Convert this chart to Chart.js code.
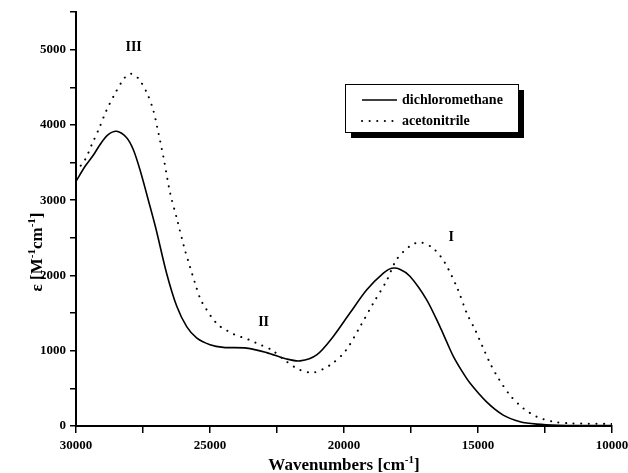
<!DOCTYPE html>
<html>
<head>
<meta charset="utf-8">
<script src="https://cdn.jsdelivr.net/npm/chart.js@4.4.1/dist/chart.umd.min.js"></script>
<style>
html,body{margin:0;padding:0;background:#fff;}
#wrap{position:relative;width:628px;height:473px;}
</style>
</head>
<body>
<div id="wrap"><canvas id="c" width="628" height="473"></canvas></div>
<script>
// ---- data ----
const dcmWavenumbers = [30000,29660,29350,29100,28800,28480,28110,27860,27610,27240,27010,26620,26240,25870,25500,25000,24500,23630,22890,22140,21640,21020,20400,19780,19150,18530,18220,17900,17540,16920,16420,16170,15920,15610,15300,14680,14060,13430,12810,12000,11000,10000];
const dcmEpsilon     = [3250,3450,3600,3740,3870,3915,3830,3670,3400,2920,2610,2030,1590,1320,1170,1080,1045,1035,975,890,865,945,1190,1500,1810,2030,2095,2080,1990,1680,1320,1120,925,735,570,320,145,57,25,10,6,5];
const acnWavenumbers = [30000,29660,29410,29130,28880,28570,28200,27960,27680,27360,27120,26970,26720,26490,26240,25930,25750,25560,25350,25160,24960,24690,24400,24130,23820,23530,23260,22700,22140,21640,21140,20520,19960,19400,18910,18410,18040,17540,17160,16670,16230,15770,15420,15110,14830,14550,14240,13810,13310,12810,12190,11570,10000];
const acnEpsilon     = [3380,3540,3740,3960,4180,4400,4620,4680,4620,4430,4200,3970,3540,3100,2760,2330,2120,1900,1680,1565,1455,1340,1275,1222,1180,1144,1100,1010,855,745,710,810,990,1320,1630,1930,2210,2390,2440,2360,2165,1830,1500,1280,1055,835,635,410,235,124,57,36,27];
const seriesLabels = ['dichloromethane','acetonitrile'];
const xTickValues = [30000,25000,20000,15000,10000];
const yTickValues = [0,1000,2000,3000,4000,5000];
const peakLabels = ['III','II','I'];
const peakX = [27850,23000,16000];
const peakY = [5030,1380,2500];

const SERIF = '"Liberation Serif","Times New Roman",serif';

function toPts(xs, ys){ return xs.map((x,i)=>({x:x,y:ys[i]})); }

function drawParts(ctx, parts, x, y, align){
  const big = 'bold 17px ' + SERIF, small = 'bold 11px ' + SERIF;
  let w = 0;
  parts.forEach(p=>{ ctx.font = p[1]?small:big; w += ctx.measureText(p[0]).width; });
  let cx = align==='center' ? x - w/2 : x;
  ctx.textBaseline = 'alphabetic';
  ctx.textAlign = 'left';
  parts.forEach(p=>{
    ctx.font = p[1]?small:big;
    ctx.fillText(p[0], cx, p[1] ? y-7 : y);
    cx += ctx.measureText(p[0]).width;
  });
}

const overlay = {
  id:'overlay',
  afterDraw(chart){
    const ctx = chart.ctx, xs = chart.scales.x, ys = chart.scales.y;
    ctx.save();
    ctx.fillStyle = '#000';
    drawParts(ctx, [['Wavenumbers [cm',0],['-1',1],[']',0]], 344, 470, 'center');
    ctx.save();
    ctx.translate(42, 252);
    ctx.rotate(-Math.PI/2);
    drawParts(ctx, [['\u03b5 [M',0],['-1',1],['cm',0],['-1',1],[']',0]], 0, 0, 'center');
    ctx.restore();
    ctx.font = 'bold 14px ' + SERIF;
    ctx.textAlign = 'center';
    ctx.textBaseline = 'middle';
    peakLabels.forEach((t,i)=>{
      ctx.fillText(t, xs.getPixelForValue(peakX[i]), ys.getPixelForValue(peakY[i]));
    });
    const bx=345, by=84, bw=173, bh=48;
    ctx.fillStyle='#000';
    ctx.fillRect(bx+6, by+6, bw, bh);
    ctx.fillStyle='#fff';
    ctx.fillRect(bx, by, bw, bh);
    ctx.strokeStyle='#000'; ctx.lineWidth=1;
    ctx.strokeRect(bx+0.5, by+0.5, bw, bh);
    chart.data.datasets.forEach((ds,i)=>{
      const yy = by + 16 + i*21;
      ctx.beginPath();
      ctx.setLineDash(ds.borderDash || []);
      ctx.lineWidth = ds.borderWidth;
      ctx.lineCap = ds.borderCapStyle || 'butt';
      ctx.moveTo(362, yy); ctx.lineTo(397, yy);
      ctx.stroke();
      ctx.setLineDash([]);
      ctx.fillStyle='#000';
      ctx.font='bold 14px ' + SERIF;
      ctx.textAlign='left'; ctx.textBaseline='middle';
      ctx.fillText(ds.label, 402, yy);
    });
    ctx.restore();
  }
};

new Chart(document.getElementById('c'), {
  type:'line',
  data:{
    datasets:[
      {label:seriesLabels[0], data:toPts(dcmWavenumbers, dcmEpsilon), borderColor:'#000', borderWidth:1.6, pointRadius:0, fill:false, tension:0.3},
      {label:seriesLabels[1], data:toPts(acnWavenumbers, acnEpsilon), borderColor:'#000', borderWidth:2, borderDash:[0.1,7.5], borderCapStyle:'round', pointRadius:0, fill:false, tension:0.3}
    ]
  },
  options:{
    responsive:false,
    animation:false,
    events:[],
    layout:{padding:{top:12,right:16,left:0,bottom:0}},
    plugins:{legend:{display:false}, tooltip:{enabled:false}},
    scales:{
      x:{
        type:'linear', min:10000, max:30000, reverse:true,
        afterFit(s){ s.height = 47; },
        afterBuildTicks(s){ const t=[]; for(let v=10000; v<=30000; v+=2500) t.push({value:v}); s.ticks=t; },
        ticks:{autoSkip:false, maxRotation:0, padding:5, color:'#000', font:{family:SERIF, size:13, weight:'bold'},
          callback:(v)=> xTickValues.includes(v) ? String(v) : ''},
        grid:{drawOnChartArea:false, drawTicks:true, tickLength:7, color:'#000', lineWidth:1.5},
        border:{display:true, color:'#000', width:2}
      },
      y:{
        type:'linear', min:0, max:5500,
        afterFit(s){ s.width = 76; },
        afterBuildTicks(s){ const t=[]; for(let v=0; v<=5500; v+=500) t.push({value:v}); s.ticks=t; },
        ticks:{autoSkip:false, padding:4, color:'#000', font:{family:SERIF, size:13, weight:'bold'},
          callback:(v)=> yTickValues.includes(v) ? String(v) : ''},
        grid:{drawOnChartArea:false, drawTicks:true, tickLength:6, color:'#000', lineWidth:1.5},
        border:{display:true, color:'#000', width:2}
      }
    }
  },
  plugins:[overlay]
});
</script>
</body>
</html>
